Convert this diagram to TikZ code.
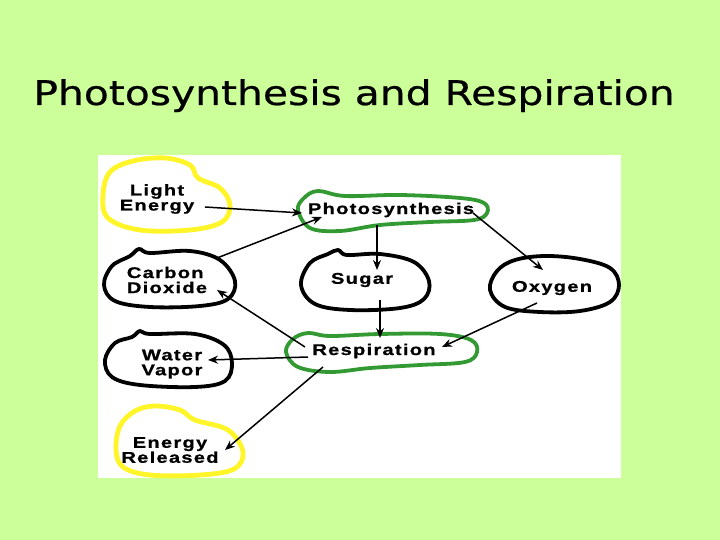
\documentclass[tikz,border=0pt]{standalone}
\usepackage{fontspec}
\usetikzlibrary{arrows.meta}
\newfontfamily\titlefont[FakeStretch=1.2,FakeBold=0.6]{DejaVu Sans}
\newfontfamily\lblfont[FakeStretch=1.3,LetterSpace=8,FakeBold=0.8]{Liberation Sans}
\definecolor{bggreen}{RGB}{204,255,153}
\definecolor{blobgreen}{RGB}{51,153,51}
\definecolor{blobyellow}{RGB}{255,245,40}
\tikzset{
  lbl/.style={font=\lblfont\bfseries\fontsize{15.5}{15}\selectfont, align=center, inner sep=0pt},
  blobk/.style={draw=black, line width=3.8pt},
  blobg/.style={draw=blobgreen, line width=3.8pt},
  bloby/.style={draw=blobyellow, line width=4.8pt},
  arr/.style={draw=black, line width=1.5pt, -{Stealth[length=10pt,width=8pt]}}
}
\begin{document}
\begin{tikzpicture}[x=1pt,y=-1pt]
\useasboundingbox (0,0) rectangle (720,540);
\fill[bggreen] (0,0) rectangle (720,540);
\fill[white] (98,155) rectangle (621,478);
\node[font=\titlefont\fontsize{34}{40}\selectfont, anchor=base] (title) at (354,105) {Photosynthesis and Respiration};

% blobs
\draw[bloby] plot[smooth cycle, tension=0.6] coordinates {(103,195) (110,172) (133,161) (165,158) (190,165) (198,178) (220,188) (230,205) (222,222) (190,230) (140,230) (108,218)};
\draw[blobg] plot[smooth cycle, tension=0.6] coordinates {(298,210) (304,198) (318,191) (345,196) (400,195) (460,198) (484,203) (487,213) (474,220) (430,222) (380,225) (340,231) (310,228)};
\draw[blobk] plot[smooth cycle, tension=0.6] coordinates {(104,285) (112,266) (130,256) (139,249) (150,253) (190,251) (220,260) (235,281) (228,299) (200,306) (150,307) (115,301)};
\draw[blobk] plot[smooth cycle, tension=0.6] coordinates {(301,285) (310,263) (328,254) (338,250) (347,255) (380,254) (414,262) (429,281) (424,299) (400,308) (350,310) (315,304)};
\draw[blobk] plot[smooth cycle, tension=0.6] coordinates {(490,290) (497,271) (515,260) (545,256) (580,259) (610,268) (619,285) (610,302) (580,311) (540,312) (505,307)};
\draw[blobg] plot[smooth cycle, tension=0.6] coordinates {(286,352) (293,339) (308,333) (330,336) (380,334) (440,334) (471,340) (477,352) (465,362) (420,365) (370,368) (330,372) (298,367)};
\draw[blobk] plot[smooth cycle, tension=0.6] coordinates {(105,360) (115,343) (132,337) (140,331) (150,334) (195,334) (224,345) (232,363) (225,381) (195,387) (140,385) (112,377)};
\draw[bloby] plot[smooth cycle, tension=0.6] coordinates {(116,450) (120,426) (135,411) (155,406) (180,410) (195,420) (228,430) (243,452) (234,469) (200,475) (150,475) (123,467)};

% labels
\node[lbl] (le) at (157,199) {Light\\Energy};
\node[lbl] (ps) at (391,210) {Photosynthesis};
\node[lbl, align=left] (cd) at (167,280) {Carbon\\Dioxide};
\node[lbl] (sg) at (362,280) {Sugar};
\node[lbl] (ox) at (552,288) {Oxygen};
\node[lbl] (rs) at (374,351) {Respiration};
\node[lbl] (wv) at (172,364) {Water\\Vapor};
\node[lbl] (er) at (170,450) {Energy\\Released};

% connectors
\draw[arr] ([shift={(48,8)}]le.center) -- ([shift={(-89,3)}]ps.center);
\draw[arr] ([shift={(50,-22)}]cd.center) -- ([shift={(-69,7)}]ps.center);
\draw[arr] ([shift={(-14,15)}]ps.center) -- ([shift={(15,-10)}]sg.center);
\draw[arr] ([shift={(82,3)}]ps.center) -- ([shift={(-9,-18)}]ox.center);
\draw[arr] ([shift={(18,20)}]sg.center) -- ([shift={(6,-13)}]rs.center);
\draw[arr] ([shift={(-15,15)}]ox.center) -- ([shift={(68,-4)}]rs.center);
\draw[arr] ([shift={(-69,-4)}]rs.center) -- ([shift={(50,10)}]cd.center);
\draw[arr] ([shift={(-66,6)}]rs.center) -- ([shift={(36,-4)}]wv.center);
\draw[arr] ([shift={(-51,16)}]rs.center) -- ([shift={(55,0)}]er.center);
\end{tikzpicture}
\end{document}
